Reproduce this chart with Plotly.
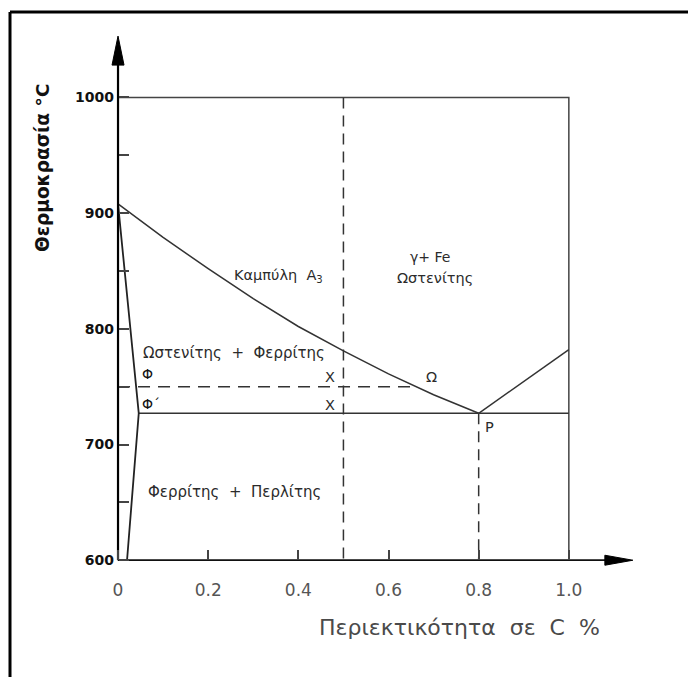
import plotly.graph_objects as go

# ---------------- data ----------------
# A3 curve (austenite / austenite+ferrite boundary)
a3_x = [0.0, 0.1, 0.2, 0.3, 0.4, 0.5, 0.6, 0.7, 0.8]
a3_y = [908, 879, 852, 826, 802, 781, 761, 743, 727]
# ferrite solvus (left boundary)
fer_x = [0.0, 0.046, 0.02]
fer_y = [908, 727, 600]
# eutectoid line A1
a1_x = [0.046, 1.0]
a1_y = [727, 727]
# line rising from P
acm_x = [0.8, 1.0]
acm_y = [727, 782]
# upper box
box_x = [0.0, 1.0, 1.0]
box_y = [1000, 1000, 600]
# dashed guides
d750_x = [0.0, 0.659]
d750_y = [750, 750]
d05_x = [0.5, 0.5]
d05_y = [1000, 600]
d08_x = [0.8, 0.8]
d08_y = [727, 600]

x_tickvals = [0, 0.2, 0.4, 0.6, 0.8, 1.0]
x_ticktext = ["0", "0.2", "0.4", "0.6", "0.8", "1.0"]
y_tickvals = [600, 700, 800, 900, 1000]
y_ticktext = ["600", "700", "800", "900", "1000"]
y_minor_tickvals = [650, 750, 850, 950]

X_MIN, X_MAX = -0.02, 1.2
Y_MIN, Y_MAX = 595, 1060
X_AXIS_TIP = 1.142
Y_AXIS_TIP = 1053

# ---------------- layout geometry ----------------
OFF = 8  # page body margin
W, H = 696 - OFF, 677 - OFF
ML, MT = 109 - OFF, 28 - OFF
PW, PH = 550, 538
MR, MB = W - ML - PW, H - MT - PH
px_per_x = PW / (X_MAX - X_MIN)
px_per_y = PH / (Y_MAX - Y_MIN)


def paper_x(px):
    return (px - OFF - ML) / PW


def paper_y(py):
    return (H - MB - (py - OFF)) / PH


LINE = "#333333"
TXT = "#2b2b2b"

fig = go.Figure()


def add_line(x, y, color=LINE, width=1.5, dash=None):
    fig.add_trace(go.Scatter(x=x, y=y, mode="lines",
                             line=dict(color=color, width=width, dash=dash),
                             hoverinfo="skip", showlegend=False))


add_line(box_x, box_y, color="#444444", width=1.5)
add_line(d05_x, d05_y, dash="11px,7px")
add_line(d08_x, d08_y, dash="11px,7px")
add_line(d750_x, d750_y, dash="12px,8px")
add_line(a1_x, a1_y)
add_line(acm_x, acm_y)
add_line(a3_x, a3_y)
add_line(fer_x, fer_y, color="#222222", width=1.8)

# axes lines with arrowheads
x_head_len = 28 / px_per_x
x_head_half = 5 / px_per_y
y_head_len = 29 / px_per_y
y_head_half = 6 / px_per_x
add_line([0, X_AXIS_TIP - x_head_len + 0.005], [600, 600], color="#111111", width=1.8)
add_line([0, 0], [600, Y_AXIS_TIP - y_head_len + 3], color="#000000", width=2.2)
fig.add_trace(go.Scatter(
    x=[X_AXIS_TIP - x_head_len, X_AXIS_TIP, X_AXIS_TIP - x_head_len, X_AXIS_TIP - x_head_len],
    y=[600 + x_head_half, 600, 600 - x_head_half, 600 + x_head_half],
    mode="lines", fill="toself", fillcolor="#000000",
    line=dict(color="#000000", width=1), hoverinfo="skip", showlegend=False))
fig.add_trace(go.Scatter(
    x=[-y_head_half, 0, y_head_half, -y_head_half],
    y=[Y_AXIS_TIP - y_head_len, Y_AXIS_TIP, Y_AXIS_TIP - y_head_len, Y_AXIS_TIP - y_head_len],
    mode="lines", fill="toself", fillcolor="#000000",
    line=dict(color="#000000", width=1), hoverinfo="skip", showlegend=False))

# ---------------- text labels ----------------
FONT = "DejaVu Sans"


def label(x, y, text, size=15, xanchor="center", color=TXT):
    fig.add_annotation(x=x, y=y, xref="x", yref="y", text=text, showarrow=False,
                       xanchor=xanchor, yanchor="middle",
                       font=dict(family=FONT, size=size, color=color))


label(0.357, 846, "Καμπύλη  A<sub>3</sub>", size=14.5)
label(0.692, 862, "γ+ Fe", size=14)
label(0.703, 844, "Ωστενίτης", size=14.5)
label(0.258, 779, "Ωστενίτης  +  Φερρίτης")
label(0.258, 659, "Φερρίτης  +  Περλίτης")
label(0.048, 761, "Φ", size=14, xanchor="left", color="#111111")
label(0.048, 735, "Φ´", size=14, xanchor="left", color="#111111")
label(0.47, 758, "X", size=14.5)
label(0.47, 734, "X", size=14.5)
label(0.696, 758, "Ω", size=14.5)
label(0.809, 715, "P", size=14.5, xanchor="left")

# axis titles
fig.add_annotation(x=paper_x(43), y=paper_y(168), xref="paper", yref="paper",
                   xanchor="center", yanchor="middle",
                   text="Θερμοκρασία °C", textangle=-90, showarrow=False,
                   font=dict(family=FONT, size=18.5, color="#111111", weight="bold"))
fig.add_annotation(x=paper_x(459), y=paper_y(627), xref="paper", yref="paper",
                   xanchor="center", yanchor="middle",
                   text="Περιεκτικότητα  σε  C  %", showarrow=False,
                   font=dict(family=FONT, size=22, color="#4a4a4a"))

# outer frame (top and left edges)
fig.add_shape(type="line", xref="paper", yref="paper",
              x0=paper_x(10), x1=paper_x(700), y0=paper_y(12), y1=paper_y(12),
              line=dict(color="#000000", width=3))
fig.add_shape(type="line", xref="paper", yref="paper",
              x0=paper_x(10), x1=paper_x(10), y0=paper_y(12), y1=paper_y(680),
              line=dict(color="#000000", width=3))

fig.update_layout(
    width=W, height=H,
    margin=dict(l=ML, r=MR, t=MT, b=MB, pad=0),
    paper_bgcolor="white", plot_bgcolor="white",
    showlegend=False,
    xaxis=dict(range=[X_MIN, X_MAX], anchor="free",
               position=(600 - Y_MIN) / (Y_MAX - Y_MIN),
               showgrid=False, zeroline=False, showline=False,
               tickmode="array", tickvals=x_tickvals, ticktext=x_ticktext,
               ticks="inside", ticklen=10, tickwidth=1.5, tickcolor="#444444",
               ticklabelstandoff=18,
               tickfont=dict(family=FONT, size=17, color="#555555")),
    yaxis=dict(range=[Y_MIN, Y_MAX], anchor="free",
               position=(0 - X_MIN) / (X_MAX - X_MIN),
               showgrid=False, zeroline=False, showline=False,
               tickmode="array", tickvals=y_tickvals, ticktext=y_ticktext,
               ticks="inside", ticklen=10, tickwidth=1.5, tickcolor="#444444",
               minor=dict(tickmode="array", tickvals=y_minor_tickvals,
                          ticks="inside", ticklen=10, tickwidth=1.5,
                          tickcolor="#444444"),
               ticklabelstandoff=4,
               tickfont=dict(family=FONT, size=14, color="#111111", weight="bold")),
)

fig.write_html("out.html")
